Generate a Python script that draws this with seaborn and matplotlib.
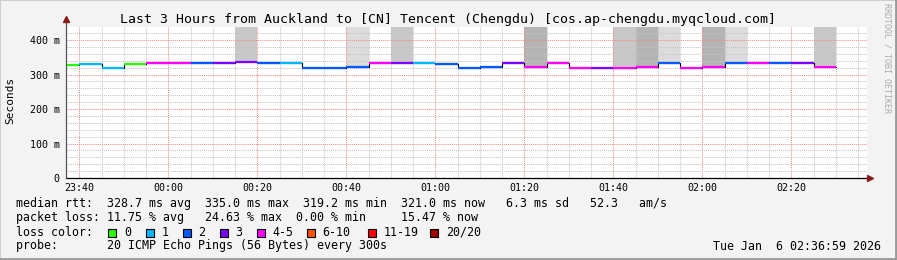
import matplotlib
matplotlib.use("Agg")
import matplotlib.pyplot as plt
import matplotlib.dates as mdates
from matplotlib.patches import Rectangle
from matplotlib.lines import Line2D
import numpy as np
import pandas as pd
import seaborn as sns
from datetime import datetime, timedelta

# ---------------- data ----------------
step_start = [
    "2026-01-05 23:35", "2026-01-05 23:40", "2026-01-05 23:45", "2026-01-05 23:50", "2026-01-05 23:55",
    "2026-01-06 00:00", "2026-01-06 00:05", "2026-01-06 00:10", "2026-01-06 00:15", "2026-01-06 00:20",
    "2026-01-06 00:25", "2026-01-06 00:30", "2026-01-06 00:35", "2026-01-06 00:40", "2026-01-06 00:45",
    "2026-01-06 00:50", "2026-01-06 00:55", "2026-01-06 01:00", "2026-01-06 01:05", "2026-01-06 01:10",
    "2026-01-06 01:15", "2026-01-06 01:20", "2026-01-06 01:25", "2026-01-06 01:30", "2026-01-06 01:35",
    "2026-01-06 01:40", "2026-01-06 01:45", "2026-01-06 01:50", "2026-01-06 01:55", "2026-01-06 02:00",
    "2026-01-06 02:05", "2026-01-06 02:10", "2026-01-06 02:15", "2026-01-06 02:20", "2026-01-06 02:25",
]
median_ms = [
    328.5, 331.5, 319.3, 331.0, 334.5,
    334.5, 334.5, 334.5, 335.0, 334.0,
    334.0, 319.3, 319.3, 322.5, 334.0,
    334.5, 334.0, 329.5, 319.2, 322.5,
    334.0, 321.5, 334.0, 319.3, 319.3,
    319.3, 322.5, 334.0, 319.3, 322.5,
    334.0, 334.0, 334.0, 334.0, 321.0,
]
lost_pings = [
    0, 1, 1, 0, 4,
    4, 2, 3, 3, 2,
    1, 2, 2, 2, 4,
    3, 1, 2, 2, 2,
    3, 5, 4, 5, 3,
    4, 5, 2, 4, 5,
    2, 4, 2, 3, 5,
]
# smoke density of outliers reaching the top of the graph (0 none .. 3 dark)
outlier_smoke = [
    0, 0, 0, 0, 0,
    0, 0, 0, 2, 0,
    0, 0, 0, 1, 0,
    2, 0, 0, 0, 0,
    0, 3, 0, 0, 0,
    2, 3, 1, 0, 3,
    1, 0, 0, 0, 2,
]
loss_labels = ["0", "1", "2", "3", "4-5", "6-10", "11-19", "20/20"]
loss_colors = ["#26ff00", "#00b8ff", "#0059ff", "#7e00ff", "#ff00ff", "#ff5500", "#ff0000", "#a00000"]
loss_bins = [0, 1, 2, 3, 5, 10, 19, 20]   # upper bound of each class
smoke_colors = {1: "#dcdcdc", 2: "#c8c8c8", 3: "#b4b4b4"}
y_ticks = [0, 100, 200, 300, 400]
y_tick_labels = ["0", "100 m", "200 m", "300 m", "400 m"]

title = "Last 3 Hours from Auckland to [CN] Tencent (Chengdu) [cos.ap-chengdu.myqcloud.com]"
stat_lines = [
    "median rtt:  328.7 ms avg  335.0 ms max  319.2 ms min  321.0 ms now   6.3 ms sd   52.3   am/s",
    "packet loss: 11.75 % avg   24.63 % max  0.00 % min     15.47 % now",
    "loss color:",
    "probe:       20 ICMP Echo Pings (56 Bytes) every 300s",
]
stamp = "Tue Jan  6 02:36:59 2026"
t_end = datetime(2026, 1, 6, 2, 36, 59)
t_begin = t_end - timedelta(hours=3)

# ---------------- figure ----------------
W, H = 897, 260
sns.set_theme(style="white")
plt.rcParams["font.family"] = ["DejaVu Sans Mono"]
fig = plt.figure(figsize=(W / 100, H / 100), dpi=100, facecolor="#f3f3f3")

def fx(px):
    return px / W

def fy(py):
    return 1 - py / H

ax = fig.add_axes([fx(66), fy(178), 801 / W, 151 / H])
ax.set_facecolor("white")
ymax = 437.7

df = pd.DataFrame({
    "start": pd.to_datetime(step_start),
    "median": median_ms,
    "lost": lost_pings,
    "smoke": outlier_smoke,
})
df["end"] = df["start"] + pd.Timedelta(minutes=5)
df["cls"] = [next(i for i, b in enumerate(loss_bins) if l <= b) for l in df["lost"]]

# outlier smoke bars (from median to top)
sm = df[df["smoke"] > 0]
ax.bar(mdates.date2num(sm["start"]), ymax - sm["median"], bottom=sm["median"],
       width=5 / 1440, align="edge", color=[smoke_colors[s] for s in sm["smoke"]],
       linewidth=0, zorder=1)

# black step connector line
step_df = pd.DataFrame({
    "t": list(df["start"]) + [df["end"].iloc[-1]],
    "v": list(df["median"]) + [df["median"].iloc[-1]],
})
sns.lineplot(data=step_df, x="t", y="v", drawstyle="steps-post", color="black",
             lw=0.8, estimator=None, sort=False, ax=ax, zorder=2.6)

# coloured median segments
ax.hlines(df["median"], mdates.date2num(df["start"]), mdates.date2num(df["end"]),
          colors=[loss_colors[c] for c in df["cls"]], lw=1.6, zorder=3)

ax.set_xlim(t_begin, t_end)
ax.set_ylim(0, ymax)
ax.set_xlabel("")
ax.set_ylabel("")

ax.xaxis.set_major_locator(mdates.MinuteLocator(byminute=[0, 20, 40]))
ax.xaxis.set_minor_locator(mdates.MinuteLocator(byminute=range(0, 60, 5)))
ax.xaxis.set_major_formatter(mdates.DateFormatter("%H:%M"))
ax.set_yticks(y_ticks)
ax.set_yticklabels(y_tick_labels)
ax.set_yticks(np.arange(0, 440, 20), minor=True)

ax.set_axisbelow("line")
ax.grid(which="minor", color="#c4c4c4", lw=0.75, linestyle=(0, (1, 1)))
ax.grid(which="major", color="#f28c8c", lw=0.75, linestyle=(0, (1, 1)))

ax.tick_params(axis="both", which="both", direction="out", labelsize=7.2,
               colors="#000000", length=2, width=0.6, pad=1.5)
ax.tick_params(axis="both", which="minor", length=1.5, colors="#999999")
ax.tick_params(axis="y", which="major", pad=2.5)
for lab in ax.get_xticklabels() + ax.get_yticklabels():
    lab.set_color("black")

for s in ["top", "right", "left"]:
    ax.spines[s].set_visible(False)
ax.spines["bottom"].set_color("black")
ax.spines["bottom"].set_linewidth(0.9)

# left axis with arrow above the plot
ax.add_line(Line2D([0, 0], [0, 1 + 7 / 151], transform=ax.transAxes, color="#555555",
                   lw=0.9, clip_on=False, zorder=4))
ax.plot([0], [1 + 8 / 151], marker="^", color="#8b1a1a", markersize=4.5,
        transform=ax.transAxes, clip_on=False, zorder=5)
ax.plot([1 + 3 / 801], [0], marker=">", color="#8b1a1a", markersize=4.5,
        transform=ax.transAxes, clip_on=False, zorder=5)

# ---------------- texts ----------------
fig.text(fx(448), fy(19), title, ha="center", va="center", fontsize=9.5, color="black")
fig.text(fx(10), fy(100), "Seconds", rotation=90, ha="center", va="center",
         fontsize=8, color="black")
fig.text(fx(887), fy(58), "RRDTOOL / TOBI OETIKER", rotation=-90, ha="center",
         va="center", fontsize=6, color="#aaaaaa")

line_y = [204, 218, 232, 246]
for txt, yy in zip(stat_lines, line_y):
    fig.text(fx(16), fy(yy), txt, ha="left", va="center", fontsize=8.4, color="black")
fig.text(fx(881), fy(246), stamp, ha="right", va="center", fontsize=8.4, color="black")

square_x = [108, 145.5, 182.5, 219.5, 256.5, 306.5, 367.5, 430]
for sx, col, lab in zip(square_x, loss_colors, loss_labels):
    fig.add_artist(Rectangle((fx(sx), fy(236.5)), 8 / W, 8 / H, transform=fig.transFigure,
                             facecolor=col, edgecolor="black", lw=0.8))
    fig.text(fx(sx + 16), fy(232), lab, ha="left", va="center", fontsize=8.4, color="black")

# frame of the image
fig.add_artist(Rectangle((0, 0), 1, 1, transform=fig.transFigure, fill=False,
                         edgecolor="#cfcfcf", lw=1.5))
fig.add_artist(Line2D([0, 1], [1 / H, 1 / H], transform=fig.transFigure, color="#9a9a9a", lw=2))
fig.add_artist(Line2D([1 - 1 / W, 1 - 1 / W], [0, 1], transform=fig.transFigure, color="#9a9a9a", lw=2))

fig.savefig("out.png", dpi=100, facecolor=fig.get_facecolor())
